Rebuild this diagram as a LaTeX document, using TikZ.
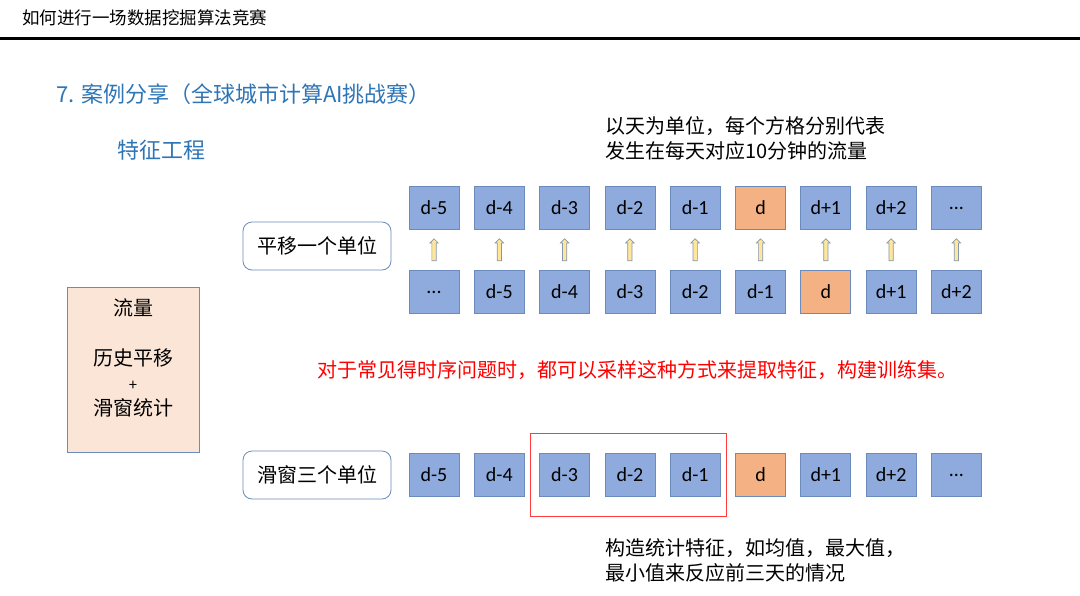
\documentclass[tikz,border=0pt]{standalone}
\usepackage{fontspec}
\setmainfont{Noto Sans CJK SC}
\newfontfamily\latinfont{Carlito}
\usepackage{tikz}
\usetikzlibrary{positioning, shapes.arrows}
\definecolor{cellblue}{HTML}{8FAADC}
\definecolor{celledge}{HTML}{6A8BBB}
\definecolor{cellorange}{HTML}{F4B183}
\definecolor{notepink}{HTML}{FBE5D6}
\definecolor{titleblue}{HTML}{2E75B6}
\definecolor{arrowfill}{HTML}{FFE699}
\definecolor{arrowedge}{HTML}{8497B0}
\definecolor{hilitered}{HTML}{FF3B3B}

\begin{document}
\begin{tikzpicture}[
  x=1pt, y=-1pt,
  every node/.style={inner sep=0pt, font=\fontsize{20}{25}\selectfont},
  cell/.style={
    rectangle, minimum width=50pt, minimum height=43pt,
    draw=celledge, line width=0.8pt, fill=cellblue,
    font=\latinfont\fontsize{20}{22}\selectfont,
  },
  today/.style={cell, fill=cellorange},
  tagbox/.style={
    rectangle, rounded corners=9pt,
    minimum width=148pt, minimum height=48pt,
    draw=celledge, line width=0.8pt, fill=white,
  },
  moveup/.style={
    single arrow, draw=arrowedge, fill=arrowfill, line width=0.7pt,
    shape border rotate=90, inner sep=1.8pt, minimum height=22pt,
    single arrow head extend=2pt, single arrow tip angle=90,
  },
  gap/.style={right=14.5pt of #1},
]
\useasboundingbox (0,0) rectangle (1080,595);

% Header
\node[anchor=west, font=\fontsize{17.5}{20}\selectfont] (header) at (22,18) {如何进行一场数据挖掘算法竞赛};
\draw[line width=3pt] (0,38) -- (1080,38);

\node[anchor=west, text=titleblue, font=\fontsize{22}{26}\selectfont] (title) at (56,94) {7. 案例分享（全球城市计算AI挑战赛）};
\node[anchor=west, text=titleblue, font=\fontsize{22}{26}\selectfont] (topic) at (117,150) {特征工程};

\node[anchor=west, align=left] (unitnote) at (605,138) {以天为单位，每个方格分别代表\\发生在每天对应10分钟的流量};

% Left summary box
\node[rectangle, draw=celledge, line width=0.8pt, fill=notepink,
      minimum width=132pt, minimum height=165pt, align=center]
      (summary) at (133,370) {流量\\ \\历史平移\\{\fontsize{15}{25}\selectfont +}\\滑窗统计\\ };

% Row 1 — shifted target
\node[tagbox] (shiftlabel) at (317,246) {平移一个单位};
\node[cell] (top1) at (434,208) {d-5};
\node[cell, gap=top1] (top2) {d-4};
\node[cell, gap=top2] (top3) {d-3};
\node[cell, gap=top3] (top4) {d-2};
\node[cell, gap=top4] (top5) {d-1};
\node[today, gap=top5] (top6) {d};
\node[cell, gap=top6] (top7) {d+1};
\node[cell, gap=top7] (top8) {d+2};
\node[cell, gap=top8] (top9) {...};

% Row 2 — history
\node[cell] (bot1) at (434,292) {...};
\node[cell, gap=bot1] (bot2) {d-5};
\node[cell, gap=bot2] (bot3) {d-4};
\node[cell, gap=bot3] (bot4) {d-3};
\node[cell, gap=bot4] (bot5) {d-2};
\node[cell, gap=bot5] (bot6) {d-1};
\node[today, gap=bot6] (bot7) {d};
\node[cell, gap=bot7] (bot8) {d+1};
\node[cell, gap=bot8] (bot9) {d+2};

% Shift arrows
\node[moveup, above=9pt of bot1] (up1) {};
\node[moveup, above=9pt of bot2] (up2) {};
\node[moveup, above=9pt of bot3] (up3) {};
\node[moveup, above=9pt of bot4] (up4) {};
\node[moveup, above=9pt of bot5] (up5) {};
\node[moveup, above=9pt of bot6] (up6) {};
\node[moveup, above=9pt of bot7] (up7) {};
\node[moveup, above=9pt of bot8] (up8) {};
\node[moveup, above=9pt of bot9] (up9) {};

\node[anchor=west, text=red] (remark) at (317,370) {对于常见得时序问题时，都可以采样这种方式来提取特征，构建训练集。};

% Row 3 — sliding window
\node[tagbox] (windowlabel) at (317,475) {滑窗三个单位};
\node[cell] (win1) at (434,475) {d-5};
\node[cell, gap=win1] (win2) {d-4};
\node[cell, gap=win2] (win3) {d-3};
\node[cell, gap=win3] (win4) {d-2};
\node[cell, gap=win4] (win5) {d-1};
\node[today, gap=win5] (win6) {d};
\node[cell, gap=win6] (win7) {d+1};
\node[cell, gap=win7] (win8) {d+2};
\node[cell, gap=win8] (win9) {...};

% Window frame
\node[rectangle, draw=hilitered, line width=1pt,
      minimum width=196pt, minimum height=83pt] (frame) at (628,475) {};

\node[anchor=west, align=left] (statnote) at (605,560) {构造统计特征，如均值，最大值，\\最小值来反应前三天的情况};

\end{tikzpicture}
\end{document}
